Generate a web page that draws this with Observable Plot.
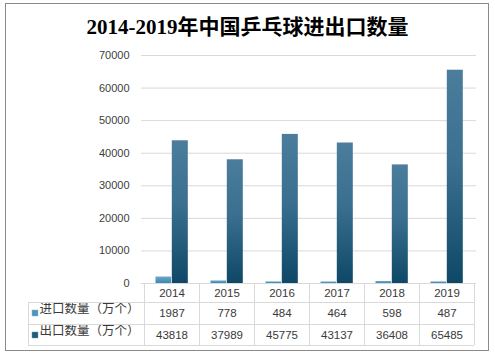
<!DOCTYPE html>
<html><head><meta charset="utf-8">
<script src="https://cdn.jsdelivr.net/npm/d3@7"></script>
<script src="https://cdn.jsdelivr.net/npm/@observablehq/plot@0.6"></script>
<style>
body{margin:0;background:#fff;}
#wrap{position:relative;width:495px;height:355px;overflow:hidden;background:#fff;}
#frame{position:absolute;left:5px;top:3px;width:484px;height:348px;border:1px solid #8a8a8a;box-sizing:border-box;}
#title{position:absolute;left:0;top:15px;width:495px;text-align:center;font-weight:bold;font-size:21px;line-height:24px;font-family:"Liberation Serif","Noto Sans CJK SC",serif;color:#000;}
#chart{position:absolute;left:0;top:45px;}
</style></head>
<body>
<div id="wrap">
  <div id="frame"></div>
  <div id="title">2014-2019年中国乒乓球进出口数量</div>
  <div id="chart"></div>
</div>
<script>
const years = ["2014","2015","2016","2017","2018","2019"];
const importVals = [1987, 778, 484, 464, 598, 487];
const exportVals = [43818, 37989, 45775, 43137, 36408, 65485];
const seriesNames = ["进口数量（万个）", "出口数量（万个）"];
const seriesColors = ["#4f93bb", "#1f5a7a"];
const yTicks = [0, 10000, 20000, 30000, 40000, 50000, 60000, 70000];

const data = years.map((y, i) => ({year: y, imp: importVals[i], exp: exportVals[i]}));
const textColor = "#3a3a3a";
const rowDy = [9.5, 29.5, 51.5];

const chart = Plot.plot({
  width: 495, height: 310,
  marginLeft: 141, marginRight: 19, marginTop: 10, marginBottom: 72,
  x: {type: "band", domain: years, padding: 0, axis: null},
  y: {domain: [0, 70000], ticks: yTicks, tickSize: 0, tickPadding: 12, tickFormat: d => String(d), label: null},
  style: {fontFamily: "'Liberation Sans', 'Noto Sans CJK SC', sans-serif", fontSize: "11px", color: "#404040", background: "transparent", overflow: "visible"},
  marks: [
    Plot.ruleY(yTicks, {stroke: "#d9d9d9", strokeWidth: 1}),
    Plot.barY(data, {x: "year", y: "imp", fill: "url(#gImp)", insetLeft: 11.5, insetRight: 27.9}),
    Plot.barY(data, {x: "year", y: "exp", fill: "url(#gExp)", insetLeft: 27.8, insetRight: 11.2}),
    Plot.text(years, {x: d => d, y: () => 0, dy: rowDy[0], text: d => d, fill: textColor, fontSize: 11.5}),
    Plot.text(data, {x: "year", y: () => 0, dy: rowDy[1], text: d => String(d.imp), fill: textColor, fontSize: 11.5}),
    Plot.text(data, {x: "year", y: () => 0, dy: rowDy[2], text: d => String(d.exp), fill: textColor, fontSize: 11.5}),
    Plot.dot([0], {frameAnchor: "bottom-left", dx: -106.5, dy: rowDy[1], symbol: "square", r: 3.4, fill: seriesColors[0], stroke: "#8fb8d0", strokeWidth: 0.5}),
    Plot.dot([0], {frameAnchor: "bottom-left", dx: -106.5, dy: rowDy[2], symbol: "square", r: 3.4, fill: seriesColors[1], stroke: "#6f95aa", strokeWidth: 0.5}),
    Plot.text([seriesNames[0]], {frameAnchor: "bottom-left", dx: -102, dy: rowDy[1], text: d => d, textAnchor: "start", fill: textColor, fontSize: 12.5, fontFamily: "'Noto Sans CJK SC', sans-serif"}),
    Plot.text([seriesNames[1]], {frameAnchor: "bottom-left", dx: -102, dy: rowDy[2], text: d => d, textAnchor: "start", fill: textColor, fontSize: 12.5, fontFamily: "'Noto Sans CJK SC', sans-serif"})
  ]
});

// gradients for bars
const svg = d3.select(chart);
const defs = svg.insert("defs", ":first-child");
const gE = defs.append("linearGradient").attr("id", "gExp").attr("x1", 0).attr("y1", 0).attr("x2", 0).attr("y2", 1);
gE.append("stop").attr("offset", "0%").attr("stop-color", "#4b7d9c");
gE.append("stop").attr("offset", "45%").attr("stop-color", "#3a6f8f");
gE.append("stop").attr("offset", "100%").attr("stop-color", "#0e4866");
const gI = defs.append("linearGradient").attr("id", "gImp").attr("x1", 0).attr("y1", 0).attr("x2", 0).attr("y2", 1);
gI.append("stop").attr("offset", "0%").attr("stop-color", "#68a8cc");
gI.append("stop").attr("offset", "100%").attr("stop-color", "#3f86b0");

// table grid lines, positioned through Plot's scales
const xs = chart.scale("x"), ys = chart.scale("y");
const bw = xs.bandwidth;
const y0 = ys.apply(0);
const xLeft = 28;
const xEnd = xs.apply(years[years.length - 1]) + bw;
const rowLines = [y0 + 19.5, y0 + 41, y0 + 62];
const g = svg.append("g").attr("stroke", "#d9d9d9").attr("stroke-width", 1).attr("shape-rendering", "crispEdges");
rowLines.forEach(yy => g.append("line").attr("x1", xLeft).attr("x2", xEnd).attr("y1", yy).attr("y2", yy));
years.forEach(yr => {
  const xx = xs.apply(yr);
  g.append("line").attr("x1", xx).attr("x2", xx).attr("y1", y0).attr("y2", rowLines[2]);
});
g.append("line").attr("x1", xEnd).attr("x2", xEnd).attr("y1", y0).attr("y2", rowLines[2]);
g.append("line").attr("x1", xLeft).attr("x2", xLeft).attr("y1", rowLines[0]).attr("y2", rowLines[2]);

document.getElementById("chart").appendChild(chart);
</script>
</body></html>
